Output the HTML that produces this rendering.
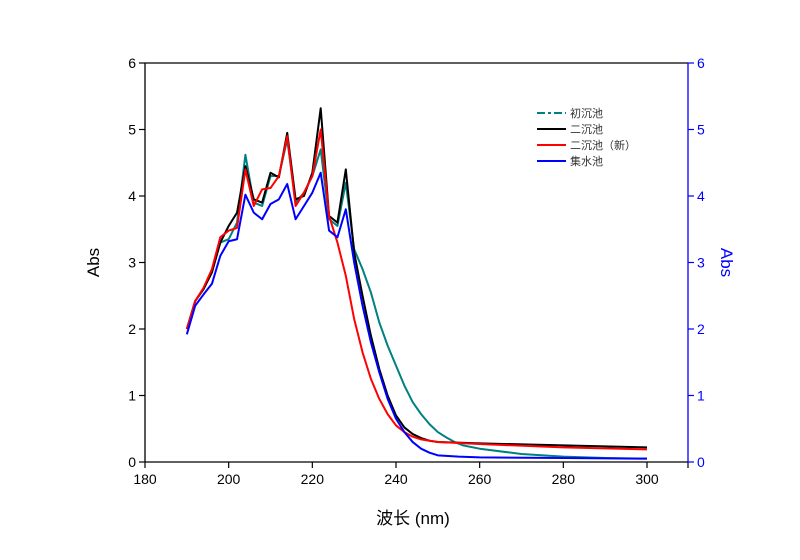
<!DOCTYPE html>
<html><head><meta charset="utf-8"><style>
body{margin:0;background:#fff}
svg text{font-family:"Liberation Sans","Noto Sans CJK SC",sans-serif}
</style></head><body>
<svg id="c" width="800" height="555" xmlns="http://www.w3.org/2000/svg"></svg>
<script>
const xTicks=[180,200,220,240,260,280,300];
const yTicks=[0,1,2,3,4,5,6];
const xs1=[190,192,194,196,198,200,202,204,206,208,210,212,214,216,218,220,222,224,226,228,230,232,234,236,238,240,242,244,246,248,250,252,254,256,260,270,280,290,300];
const teal=[2.0,2.42,2.6,2.88,3.3,3.35,3.6,4.62,3.9,3.85,4.3,4.3,4.85,3.9,4.05,4.3,4.7,3.65,3.55,4.2,3.2,2.9,2.55,2.1,1.75,1.45,1.15,0.9,0.72,0.57,0.45,0.37,0.3,0.25,0.2,0.12,0.08,0.06,0.05];
const xs2=[190,192,194,196,198,200,202,204,206,208,210,212,214,216,218,220,222,224,226,228,230,232,234,236,238,240,242,244,246,248,250,260,280,300];
const black=[2.0,2.42,2.6,2.85,3.3,3.55,3.75,4.45,3.95,3.9,4.35,4.28,4.95,3.95,4.0,4.35,5.32,3.7,3.6,4.4,3.15,2.5,1.9,1.4,1.0,0.7,0.52,0.42,0.36,0.32,0.3,0.28,0.25,0.22];
const red=[2.0,2.42,2.62,2.9,3.38,3.48,3.52,4.4,3.85,4.1,4.12,4.3,4.9,3.85,4.05,4.3,5.0,3.7,3.3,2.8,2.15,1.65,1.25,0.95,0.72,0.55,0.45,0.38,0.34,0.32,0.3,0.27,0.22,0.19];
const xs3=[190,192,194,196,198,200,202,204,206,208,210,212,214,216,218,220,222,224,226,228,230,232,234,236,238,240,242,244,246,248,250,255,260,280,300];
const blue=[1.92,2.35,2.52,2.68,3.1,3.32,3.35,4.02,3.75,3.65,3.88,3.95,4.18,3.65,3.85,4.05,4.35,3.48,3.38,3.8,3.0,2.35,1.8,1.35,0.95,0.65,0.45,0.3,0.2,0.14,0.1,0.08,0.07,0.06,0.05];
const L=145,R=688,T=63,B=462;
const X=v=>L+(v-180)*(502/120);
const Y=v=>B-v*(B-T)/6;
const svg=document.getElementById('c');
const NS='http://www.w3.org/2000/svg';
function el(t,a,p){const e=document.createElementNS(NS,t);for(const k in a)e.setAttribute(k,a[k]);(p||svg).appendChild(e);return e;}
let e;
e=el('line',{x1:L,y1:T,x2:L,y2:B,stroke:'#000','stroke-width':1.3});


e=el('line',{x1:L,y1:B,x2:R,y2:B,stroke:'#000','stroke-width':1.3});


e=el('line',{x1:L,y1:T,x2:R,y2:T,stroke:'#000','stroke-width':1.3});


e=el('line',{x1:R,y1:T,x2:R,y2:B,stroke:'#00f','stroke-width':1.3});


el('line',{x1:R,y1:B,x2:R,y2:B+6,stroke:'#000','stroke-width':1.2});
xTicks.forEach(v=>{
  el('line',{x1:X(v),y1:B,x2:X(v),y2:B+6,stroke:'#000','stroke-width':1.2});
  const t=el('text',{x:X(v),y:B+22,'text-anchor':'middle','font-size':14});t.textContent=v;
  
  
});
yTicks.forEach(v=>{
  el('line',{x1:L-6,y1:Y(v),x2:L,y2:Y(v),stroke:'#000','stroke-width':1.2});
  el('line',{x1:R,y1:Y(v),x2:R+6,y2:Y(v),stroke:'#00f','stroke-width':1.2});
  let t=el('text',{x:L-9,y:Y(v)+5,'text-anchor':'end','font-size':14});t.textContent=v;
  
  
  t=el('text',{x:R+9,y:Y(v)+5,'text-anchor':'start','font-size':14,fill:'#00f'});t.textContent=v;
  
  
});
e=el('text',{x:0,y:0,'font-size':17,'text-anchor':'middle',transform:`translate(99,${(T+B)/2}) rotate(-90)`});e.textContent='Abs';


e=el('text',{x:0,y:0,'font-size':17,'text-anchor':'middle',fill:'#00f',transform:`translate(721,${(T+B)/2}) rotate(90)`});e.textContent='Abs';


e=el('text',{x:413,y:524,'font-size':17,'text-anchor':'middle'});e.textContent='波长 (nm)';


function line(xs,ys,c,dash,name){
  const p=el('polyline',{points:xs.map((x,i)=>X(x)+','+Y(ys[i])).join(' '),fill:'none',stroke:c,'stroke-width':2,'stroke-linejoin':'round'});
  if(dash)p.setAttribute('stroke-dasharray',dash);
  
  
}
line(xs1,teal,'#008080',null,'series-chuchenchi');
line(xs2,black,'#000',null,'series-erchenchi');
line(xs2,red,'#f00',null,'series-erchenchi-new');
line(xs3,blue,'#00f',null,'series-jishuichi');
const leg=[['初沉池','#008080','8 3 3 3'],['二沉池','#000',null],['二沉池（新）','#f00',null],['集水池','#00f',null]];
leg.forEach((d,i)=>{
  const y=113+i*16;
  const g=el('g',{});
  
  
  const l=el('line',{x1:537,y1:y,x2:566,y2:y,stroke:d[1],'stroke-width':2},g);
  if(d[2])l.setAttribute('stroke-dasharray',d[2]);
  const t=el('text',{x:570,y:y+4,'font-size':11,fill:'#333'},g);t.textContent=d[0];
});
</script>
</body></html>
